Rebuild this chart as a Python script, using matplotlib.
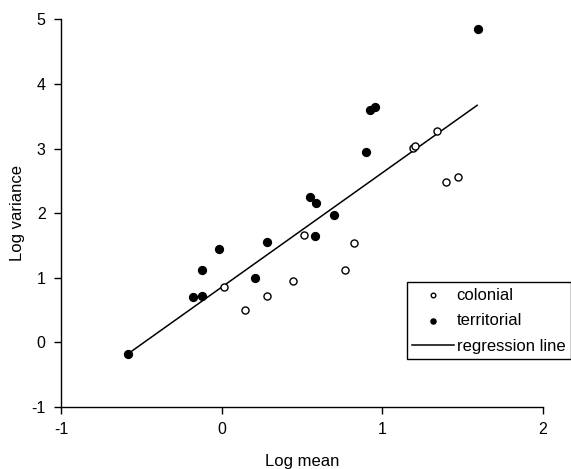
import numpy as np
import matplotlib.pyplot as plt

plt.rcParams['font.family'] = ['Liberation Sans', 'DejaVu Sans']
plt.rcParams['axes.unicode_minus'] = False

# colonial species (open circles)
colonial_x = [0.014, 0.148, 0.283, 0.443, 0.510, 0.769, 0.826, 1.191, 1.201, 1.341, 1.394, 1.469]
colonial_y = [0.858, 0.497, 0.723, 0.946, 1.657, 1.125, 1.533, 3.01, 3.04, 3.264, 2.485, 2.553]

# territorial species (filled circles)
territorial_x = [-0.584, -0.178, -0.120, -0.120, -0.016, 0.209, 0.283, 0.580, 0.697, 0.589,
                 0.547, 0.900, 0.923, 0.954, 1.594]
territorial_y = [-0.18, 0.70, 0.72, 1.125, 1.445, 0.997, 1.558, 1.65, 1.966, 2.15,
                 2.25, 2.94, 3.594, 3.64, 4.856]

# regression line
line_x = [-0.58, 1.59]
slope = 1.77
intercept = 0.855

fig = plt.figure(figsize=(5.71, 4.69), dpi=100)
ax = fig.add_axes([0.1068, 0.1322, 0.8442, 0.8266])

ax.scatter(colonial_x, colonial_y, s=26, facecolors='white', edgecolors='black',
           linewidths=1.0, zorder=3, label='colonial')
ax.scatter(territorial_x, territorial_y, s=32, color='black', zorder=3, label='territorial')
lx = np.array(line_x)
ax.plot(lx, intercept + slope * lx, color='black', lw=1.1, label='regression line')

ax.set_xlim(-1, 2)
ax.set_ylim(-1, 5)
ax.set_xticks([-1, 0, 1, 2])
ax.set_yticks([-1, 0, 1, 2, 3, 4, 5])
ax.spines['top'].set_visible(False)
ax.spines['right'].set_visible(False)
for s in ['left', 'bottom']:
    ax.spines[s].set_linewidth(1.0)
ax.tick_params(direction='out', length=5, width=1, labelsize=11.5, pad=6)

ax.set_xlabel('Log mean', fontsize=12, labelpad=12)
ax.set_ylabel('Log variance', fontsize=12, labelpad=5)

leg = ax.legend(loc='upper right', bbox_to_anchor=(571 / 571, 1 - 282 / 469),
                bbox_transform=fig.transFigure, fontsize=12, frameon=True,
                fancybox=False, edgecolor='black', framealpha=1, borderpad=0.35,
                labelspacing=0.62, handlelength=2.5, handletextpad=0.15,
                borderaxespad=0, markerscale=0.65)
leg.get_frame().set_linewidth(1.0)

fig.savefig('out.png', dpi=100)
